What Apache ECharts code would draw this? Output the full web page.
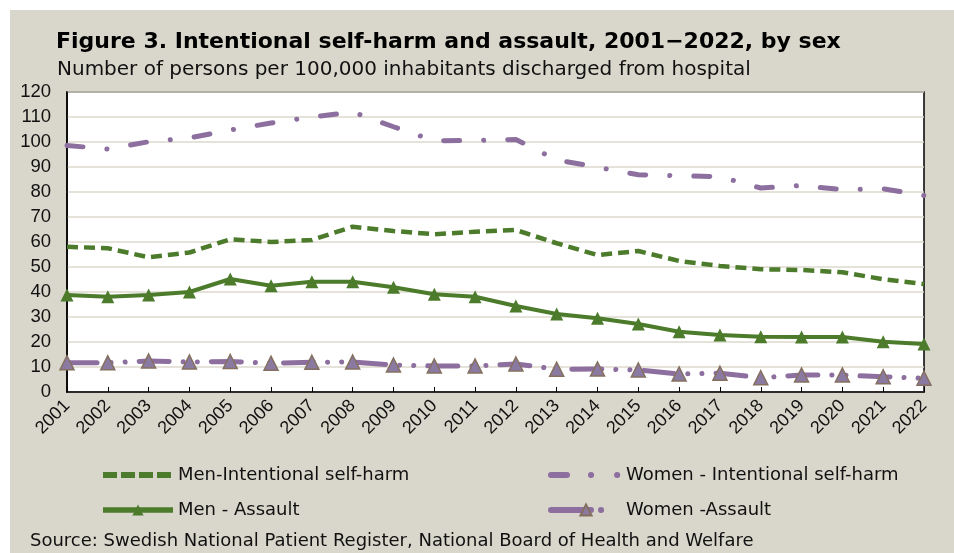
<!DOCTYPE html>
<html><head><meta charset="utf-8">
<script src="https://cdn.jsdelivr.net/npm/echarts@6/dist/echarts.min.js"></script>
<style>html,body{margin:0;padding:0;background:#fff}#c{width:954px;height:553px}</style>
</head><body><div id="c"></div>
<script>
const years = ['2001','2002','2003','2004','2005','2006','2007','2008','2009','2010','2011','2012','2013','2014','2015','2016','2017','2018','2019','2020','2021','2022'];
const menSelfHarm = [58.1,57.5,53.9,55.8,61.1,60.0,60.8,66.1,64.4,63.1,64.1,64.8,59.5,54.8,56.4,52.4,50.4,49.1,48.8,47.9,45.1,43.2];
const womenSelfHarm = [98.6,97.2,100.1,101.6,104.8,107.6,110.0,112.0,106.1,100.5,100.6,101.0,92.8,89.9,86.9,86.5,86.1,81.6,82.6,80.9,81.3,78.6];
const menAssault = [38.8,38.1,38.8,40.0,45.2,42.5,44.1,44.1,41.9,39.1,38.1,34.4,31.2,29.5,27.2,24.1,22.8,22.1,22.0,22.0,20.1,19.2];
const womenAssault = [11.7,11.7,12.4,12.0,12.2,11.5,11.9,12.0,10.8,10.4,10.4,11.2,9.1,9.2,8.8,7.2,7.5,5.7,6.8,6.8,6.1,5.5];
const names = ['Men-Intentional self-harm','Women - Intentional self-harm','Men - Assault','Women -Assault'];

const FONT = 'DejaVu Sans';
const NUMFONT = 'Liberation Sans';
const GREEN = '#4b7b2b', PURPLE = '#8d6f9f';
const chart = echarts.init(document.getElementById('c'));
const legendText = {fontFamily:FONT, fontSize:18, color:'#111'};
chart.setOption({
  backgroundColor: '#ffffff',
  animation: false,
  textStyle: {fontFamily: FONT},
  graphic: [{type:'rect', z:-10, silent:true, shape:{x:10,y:10,width:944,height:543}, style:{fill:'#d9d7cb'}}],
  title: [
    {text:'Figure 3. Intentional self-harm and assault, 2001\u22122022, by sex', left:56, top:31, padding:0,
     textStyle:{fontFamily:FONT, fontWeight:'bold', fontSize:22, color:'#000'}},
    {text:'Number of persons per 100,000 inhabitants discharged from hospital', left:57, top:60, padding:0,
     textStyle:{fontFamily:FONT, fontWeight:'normal', fontSize:20, color:'#111'}},
    {text:'Source: Swedish National Patient Register, National Board of Health and Welfare', left:30, top:532, padding:0,
     textStyle:{fontFamily:FONT, fontWeight:'normal', fontSize:18, color:'#111'}}
  ],
  legend: [
    {orient:'vertical', left:100, top:466, padding:0, itemWidth:70, itemHeight:14, itemGap:17,
     data:[
       {name:names[0], itemStyle:{opacity:0}, lineStyle:{width:6, type:[14,4]}},
       {name:names[2], lineStyle:{width:5.5}, itemStyle:{color:GREEN}}
     ], textStyle:legendText},
    {orient:'vertical', left:548, top:466, padding:0, itemWidth:70, itemHeight:14, itemGap:17,
     data:[
       {name:names[1], itemStyle:{opacity:0}, lineStyle:{width:6, type:[16,24,0.1,26,0.1,60], cap:'round'}},
       {name:names[3], lineStyle:{width:6, type:[40,10,0.1,80], cap:'round'}}
     ], textStyle:legendText}
  ],
  grid: {left:67, top:92, right:30, bottom:161, show:true, backgroundColor:'#ffffff', borderColor:'#000', borderWidth:1.5},
  xAxis: {type:'category', data:years, boundaryGap:false,
    axisLine:{lineStyle:{color:'#000', width:1.5}},
    axisTick:{inside:true, length:5, lineStyle:{color:'#000', width:1}},
    axisLabel:{rotate:45, fontSize:18, color:'#111', margin:11, fontFamily:NUMFONT}},
  yAxis: {type:'value', min:0, max:120, interval:10,
    axisLine:{show:true, lineStyle:{color:'#000', width:1.5}},
    axisTick:{show:false},
    splitLine:{lineStyle:{color:'#dcdacd', width:1.5}},
    axisLabel:{fontSize:18.5, color:'#111', margin:16, fontFamily:NUMFONT}},
  series: [
    {name:names[0], type:'line', data:menSelfHarm, symbol:'none', color:GREEN,
     lineStyle:{color:GREEN, width:4.5, type:[11,6]}},
    {name:names[1], type:'line', data:womenSelfHarm, symbol:'none', color:PURPLE,
     lineStyle:{color:PURPLE, width:5, type:[16,24,0.1,24], cap:'round'}},
    {name:names[2], type:'line', data:menAssault, symbol:'triangle', symbolSize:13, color:GREEN,
     itemStyle:{color:GREEN}, lineStyle:{color:GREEN, width:4}},
    {name:names[3], type:'line', data:womenAssault, symbol:'triangle', symbolSize:14, color:PURPLE,
     itemStyle:{color:'#8a79a0', borderColor:'#85705f', borderWidth:1.5},
     lineStyle:{color:PURPLE, width:5, type:[30,14,0.1,14,0.1,14], cap:'round'}}
  ]
});
</script></body></html>
